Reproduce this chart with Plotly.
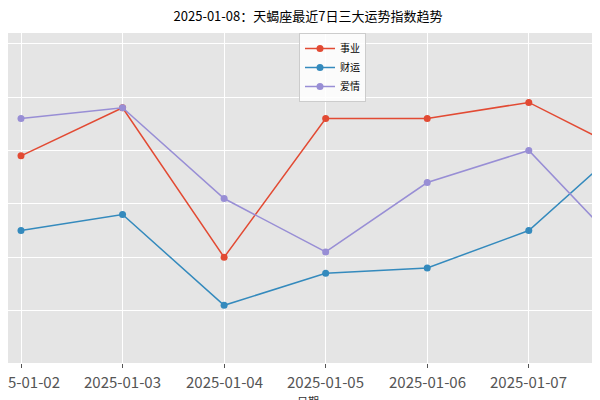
import plotly.graph_objects as go

dates = ["2025-01-02","2025-01-03","2025-01-04","2025-01-05","2025-01-06","2025-01-07","2025-01-08"]
career = [74.5, 79, 65, 78, 78, 79.5, 74.7]
wealth = [67.5, 69, 60.5, 63.5, 64, 67.5, 76]
love = [78, 79, 70.5, 65.5, 72, 75, 65]

fig = go.Figure()
for name, vals, col in [("事业", career, "#E24A33"), ("财运", wealth, "#348ABD"), ("爱情", love, "#988ED5")]:
    fig.add_trace(go.Scatter(x=list(range(len(dates))), y=vals, name=name, mode="lines+markers",
                             line=dict(color=col, width=1.5), marker=dict(size=7, color=col)))

for i, d in enumerate(dates):
    fig.add_annotation(x=i, xref="x", y=0, yref="paper", yshift=-6, yanchor="top", text=d,
                       showarrow=False, font=dict(size=15, color="#555"))
fig.add_annotation(x=0.5, xref="paper", y=0, yref="paper", yshift=-28, yanchor="top", text="日期",
                   showarrow=False, font=dict(size=11, color="#333"))

fig.update_layout(
    width=600, height=400,
    margin=dict(l=0, r=0, t=25, b=45),
    paper_bgcolor="white", plot_bgcolor="#E5E5E5",
    font=dict(family="Noto Sans CJK SC, DejaVu Sans", color="#555"),
    title=dict(text="2025-01-08：天蝎座最近7日三大运势指数趋势", x=0.5, xanchor="center", y=0.99, yanchor="top",
               font=dict(size=13, color="black")),
    legend=dict(x=0.485, y=1.0, xanchor="left", yanchor="top", bgcolor="rgba(255,255,255,0.85)",
                bordercolor="#ccc", borderwidth=1, font=dict(size=10, color="black"),
                tracegroupgap=0, itemwidth=30),
    showlegend=True,
)
fig.update_xaxes(tickmode="array", tickvals=list(range(len(dates))), showticklabels=False,
                 range=[-0.128, 5.78], showgrid=True, gridcolor="white", gridwidth=1.2, zeroline=False,
                 ticks="outside", ticklen=4, tickcolor="#555", automargin=False)
fig.update_yaxes(range=[55.1, 86], tickvals=[60, 65, 70, 75, 80, 85], showticklabels=False,
                 showgrid=True, gridcolor="white", gridwidth=1.2, zeroline=False, automargin=False)

fig.write_html("out.html")
